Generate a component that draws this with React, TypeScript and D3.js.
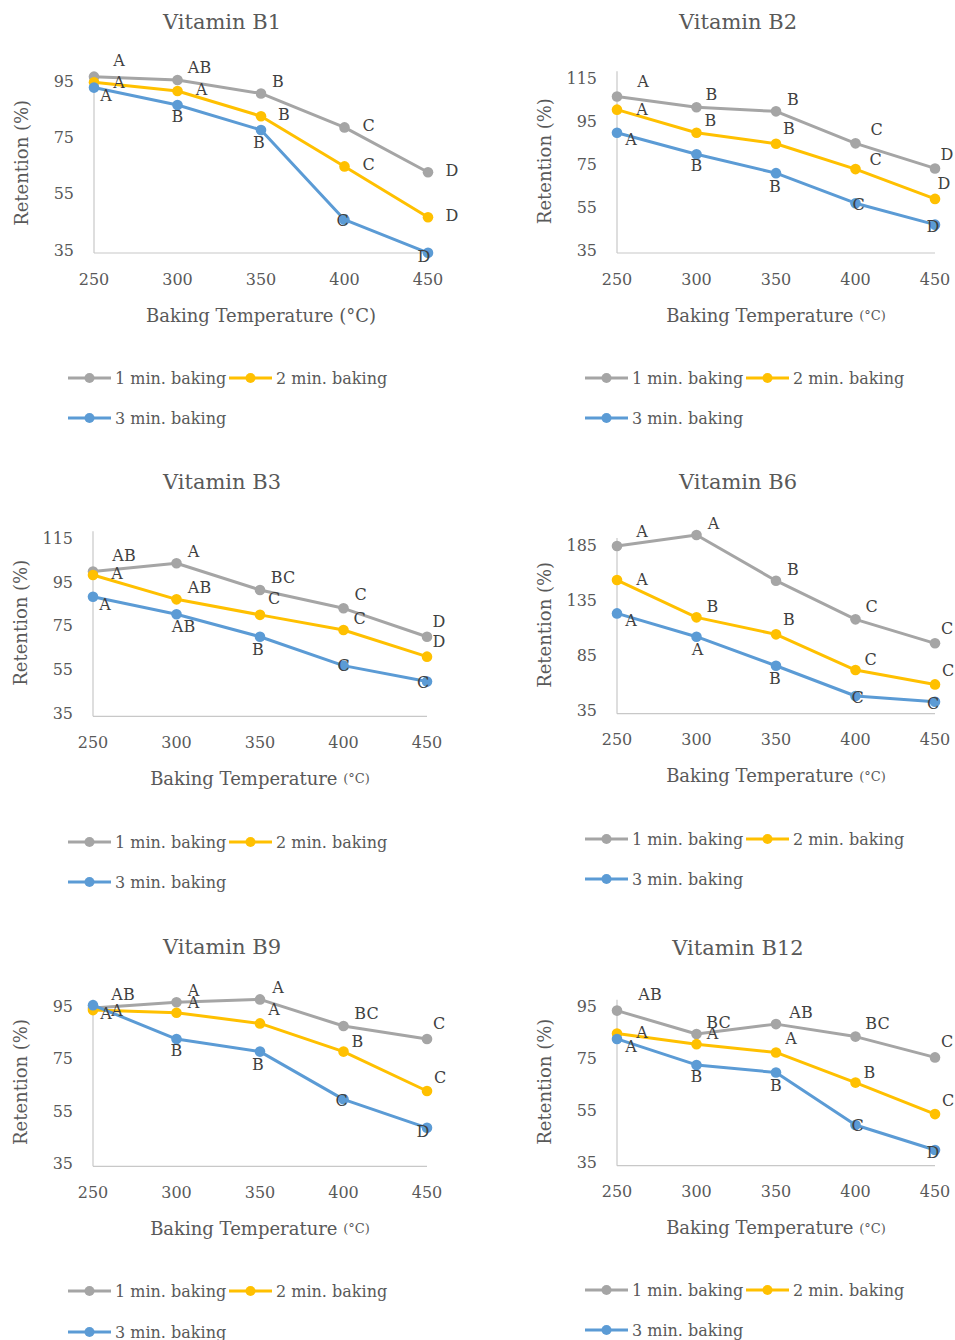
import * as d3 from "d3";

// x categories (baking temperature, °C)
const temps = [250, 300, 350, 400, 450];
const seriesNames = ["1 min. baking", "2 min. baking", "3 min. baking"];
const seriesColors = ["#A5A5A5", "#FFC000", "#5B9BD5"];

// retention (%) per vitamin, one array per baking time
const b1Min1 = [96.8, 95.6, 90.8, 78.7, 62.7];
const b1Min2 = [94.8, 91.7, 82.7, 64.8, 46.7];
const b1Min3 = [92.9, 86.7, 77.8, 45.8, 34.0];
const b1Letters = [["A", "AB", "B", "C", "D"], ["A", "A", "B", "C", "D"], ["A", "B", "B", "C", "D"]];

const b2Min1 = [106.5, 101.5, 99.6, 84.7, 73.0];
const b2Min2 = [100.4, 89.6, 84.5, 72.7, 58.8];
const b2Min3 = [89.6, 79.6, 70.8, 56.8, 46.8];
const b2Letters = [["A", "B", "B", "C", "D"], ["A", "B", "B", "C", "D"], ["A", "B", "B", "C", "D"]];

const b3Min1 = [99.8, 103.6, 91.4, 83.0, 70.0];
const b3Min2 = [98.2, 87.1, 80.0, 73.1, 60.9];
const b3Min3 = [88.3, 80.3, 70.0, 56.8, 49.5];
const b3Letters = [["AB", "A", "BC", "C", "D"], ["A", "AB", "C", "C", "D"], ["A", "AB", "B", "C", "C"]];

const b6Min1 = [184.1, 194.0, 152.7, 117.7, 96.0];
const b6Min2 = [153.3, 119.5, 104.1, 71.8, 58.8];
const b6Min3 = [123.1, 102.0, 75.7, 48.3, 43.1];
const b6Letters = [["A", "A", "B", "C", "C"], ["A", "B", "B", "C", "C"], ["A", "A", "B", "C", "C"]];

const b9Min1 = [94.5, 96.7, 97.8, 87.6, 82.6];
const b9Min2 = [93.7, 92.7, 88.6, 77.8, 62.7];
const b9Min3 = [95.6, 82.6, 77.8, 59.5, 48.6];
const b9Letters = [["AB", "A", "A", "BC", "C"], ["A", "A", "A", "B", "C"], ["A", "B", "B", "C", "D"]];

const b12Min1 = [93.5, 84.5, 88.3, 83.5, 75.5];
const b12Min2 = [84.7, 80.6, 77.4, 65.8, 53.7];
const b12Min3 = [82.6, 72.6, 69.7, 49.5, 39.9];
const b12Letters = [["AB", "BC", "AB", "BC", "C"], ["A", "A", "A", "B", "C"], ["A", "B", "B", "C", "D"]];

const ticksLow = [35, 55, 75, 95];
const ticksHigh = [35, 55, 75, 95, 115];
const ticksB6 = [35, 85, 135, 185];

// label nudges (px) from each marker, as placed in the original
const b1Nudge = [
  [[25, -16], [22, -13], [17, -12], [24, -2], [24, -2]],
  [[25, 0], [24, -1], [23, -2], [24, -2], [24, -2]],
  [[12, 8], [0, 12], [-2, 13], [-2, 1], [-4, 4]],
];
const b2Nudge = [
  [[26, -15], [15, -13], [17, -12], [21, -14], [12, -14]],
  [[25, 0], [14, -12], [13, -15], [20, -10], [9, -15]],
  [[14, 7], [0, 11], [-1, 13], [3, 1], [-2, 2]],
];
const b3Nudge = [
  [[31, -16], [17, -12], [23, -12], [17, -14], [12, -15]],
  [[24, -2], [23, -12], [14, -16], [16, -11], [12, -15]],
  [[12, 8], [7, 12], [-2, 13], [0, 0], [-4, 1]],
];
const b6Nudge = [
  [[25, -14], [17, -12], [17, -11], [16, -13], [12, -15]],
  [[25, -1], [16, -11], [13, -15], [15, -11], [13, -14]],
  [[14, 7], [1, 13], [-1, 13], [2, 1], [-2, 2]],
];
const b9Nudge = [
  [[30, -14], [17, -12], [18, -12], [23, -13], [12, -16]],
  [[24, 0], [17, -10], [14, -14], [14, -10], [13, -14]],
  [[13, 8], [0, 11], [-2, 13], [-2, 1], [-4, 4]],
];
const b12Nudge = [
  [[33, -16], [22, -12], [25, -12], [22, -13], [12, -16]],
  [[25, -1], [16, -11], [15, -14], [14, -10], [13, -14]],
  [[14, 8], [0, 12], [0, 13], [2, 0], [-2, 3]],
];

const panels = [
  { title: "Vitamin B1", series: [b1Min1, b1Min2, b1Min3], letters: b1Letters, nudge: b1Nudge, ticks: ticksLow,
    x: [94, 428], y: [250, 81.7], titleX: 222, titleY: 22, legX: 68, legY: [378, 418], bigUnit: true },
  { title: "Vitamin B2", series: [b2Min1, b2Min2, b2Min3], letters: b2Letters, nudge: b2Nudge, ticks: ticksHigh,
    x: [617, 935], y: [250, 78.3], titleX: 738, titleY: 22, legX: 585, legY: [378, 418] },
  { title: "Vitamin B3", series: [b3Min1, b3Min2, b3Min3], letters: b3Letters, nudge: b3Nudge, ticks: ticksHigh,
    x: [93, 427], y: [713.3, 538.3], titleX: 222, titleY: 482, legX: 68, legY: [842, 882] },
  { title: "Vitamin B6", series: [b6Min1, b6Min2, b6Min3], letters: b6Letters, nudge: b6Nudge, ticks: ticksB6,
    x: [617, 935], y: [710.7, 545], titleX: 738, titleY: 482, legX: 585, legY: [839, 879] },
  { title: "Vitamin B9", series: [b9Min1, b9Min2, b9Min3], letters: b9Letters, nudge: b9Nudge, ticks: ticksLow,
    x: [93, 427], y: [1163.3, 1006.7], titleX: 222, titleY: 947, legX: 68, legY: [1291, 1332] },
  { title: "Vitamin B12", series: [b12Min1, b12Min2, b12Min3], letters: b12Letters, nudge: b12Nudge, ticks: ticksLow,
    x: [617, 935], y: [1162.7, 1006.7], titleX: 738, titleY: 948, legX: 585, legY: [1290, 1330] },
];

const FONT = "'DejaVu Serif', serif";
const TEXT = "#595959";

const Panel = ({ p }) => {
  const x = d3.scaleLinear().domain([250, 450]).range(p.x);
  const top = p.ticks[p.ticks.length - 1];
  const y = d3.scaleLinear().domain([35, top]).range(p.y);
  const line = d3
    .line<number>()
    .x((_, i) => x(temps[i]))
    .y((d) => y(d));
  const base = y(35) + 3;
  const midX = (p.x[0] + p.x[1]) / 2;
  const midY = (y(35) + y(top)) / 2 - 3;

  return (
    <g>
      <text x={p.titleX} y={p.titleY} textAnchor="middle" dominantBaseline="central" fontSize={21} fill={TEXT}>
        {p.title}
      </text>

      {/* axes */}
      <line x1={x(250)} x2={x(450)} y1={base} y2={base} stroke="#C8C8C8" strokeWidth={1.2} />
      <line x1={x(250)} x2={x(250)} y1={base} y2={y(top) - 7} stroke="#C8C8C8" strokeWidth={1.2} />

      {p.ticks.map((t) => (
        <text key={t} x={p.x[0] - 20} y={y(t)} textAnchor="end" dominantBaseline="central" fontSize={16} fill={TEXT}>
          {t}
        </text>
      ))}
      {temps.map((t) => (
        <text key={t} x={x(t)} y={y(35) + 29} textAnchor="middle" dominantBaseline="central" fontSize={16} fill={TEXT}>
          {t}
        </text>
      ))}

      <text x={midX} y={y(35) + 65} textAnchor="middle" dominantBaseline="central" fontSize={18} fill={TEXT}>
        Baking Temperature{" "}
        <tspan fontSize={p.bigUnit ? 18 : 13}>(°C)</tspan>
      </text>
      <text
        transform={`translate(${p.x[0] - 73},${midY}) rotate(-90)`}
        textAnchor="middle"
        dominantBaseline="central"
        fontSize={18}
        fill={TEXT}
      >
        Retention (%)
      </text>

      {/* series */}
      {p.series.map((vals, s) => (
        <g key={s}>
          <path d={line(vals) || ""} fill="none" stroke={seriesColors[s]} strokeWidth={3} strokeLinejoin="round" />
          {vals.map((v, i) => (
            <circle key={i} cx={x(temps[i])} cy={y(v)} r={5.3} fill={seriesColors[s]} />
          ))}
        </g>
      ))}

      {/* significance letters */}
      {p.series.map((vals, s) =>
        vals.map((v, i) => (
          <text
            key={`${s}-${i}`}
            x={x(temps[i]) + p.nudge[s][i][0]}
            y={y(v) + p.nudge[s][i][1]}
            textAnchor="middle"
            dominantBaseline="central"
            fontSize={16}
            fill="#404040"
          >
            {p.letters[s][i]}
          </text>
        ))
      )}

      {/* legend */}
      {seriesNames.map((name, s) => {
        const lx = p.legX + (s === 1 ? 161 : 0);
        const ly = s === 2 ? p.legY[1] : p.legY[0];
        return (
          <g key={name}>
            <line x1={lx} x2={lx + 43} y1={ly} y2={ly} stroke={seriesColors[s]} strokeWidth={3} />
            <circle cx={lx + 21.5} cy={ly} r={5} fill={seriesColors[s]} />
            <text x={lx + 47} y={ly} dominantBaseline="central" fontSize={16} fill={TEXT}>
              {name}
            </text>
          </g>
        );
      })}
    </g>
  );
};

export default function App() {
  return (
    <svg
      width={955}
      height={1340}
      style={{ position: "absolute", left: 0, top: 0, background: "#fff" }}
      fontFamily={FONT}
    >
      <rect width={955} height={1340} fill="#fff" />
      {panels.map((p) => (
        <Panel key={p.title} p={p} />
      ))}
    </svg>
  );
}
